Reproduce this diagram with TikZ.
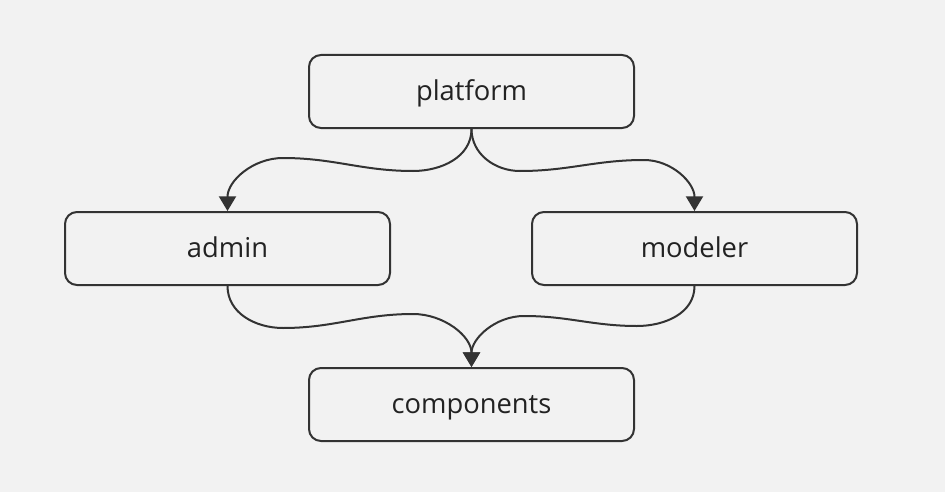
\documentclass[tikz,border=0pt]{standalone}
\usepackage{fontspec}
\setmainfont{Open Sans}
\usetikzlibrary{arrows.meta}
\definecolor{linecol}{HTML}{333333}
\definecolor{textcol}{HTML}{222222}
\definecolor{bgcol}{HTML}{F2F2F2}

\begin{document}
\begin{tikzpicture}[x=0.75pt,y=-0.75pt,
    box/.style={draw=linecol, line width=1.5pt, rounded corners=9pt,
        minimum width=243.75pt, minimum height=54.75pt,
        text height=14pt, text depth=1.25pt,
        font=\fontsize{20.5}{24}\selectfont, text=textcol},
    link/.style={draw=linecol, line width=1.5pt, -{Triangle[width=12.75pt,length=11pt]}}]
    \fill [bgcol] (0,0) rectangle (945,492);
    \node [box] (platform)   at (471.5,91.5)  {platform};
    \node [box] (admin)      at (227.5,248.5) {admin};
    \node [box] (modeler)    at (694.5,248.5) {modeler};
    \node [box] (components) at (471.5,404.5) {components};
    \draw [link] (platform.south) to[out=-90,in=0] (413,171) to[out=180,in=0] (283,158) to[out=180,in=90] (admin.north);
    \draw [link] (platform.south) to[out=-90,in=180] (520,171) to[out=0,in=180] (644,160) to[out=0,in=90] (modeler.north);
    \draw [link] (admin.south) to[out=-90,in=180] (283,328) to[out=0,in=180] (413,314) to[out=0,in=90] (components.north);
    \draw [link] (modeler.south) to[out=-90,in=0] (637,326) to[out=180,in=0] (524,316) to[out=180,in=90] (components.north);
\end{tikzpicture}
\end{document}
